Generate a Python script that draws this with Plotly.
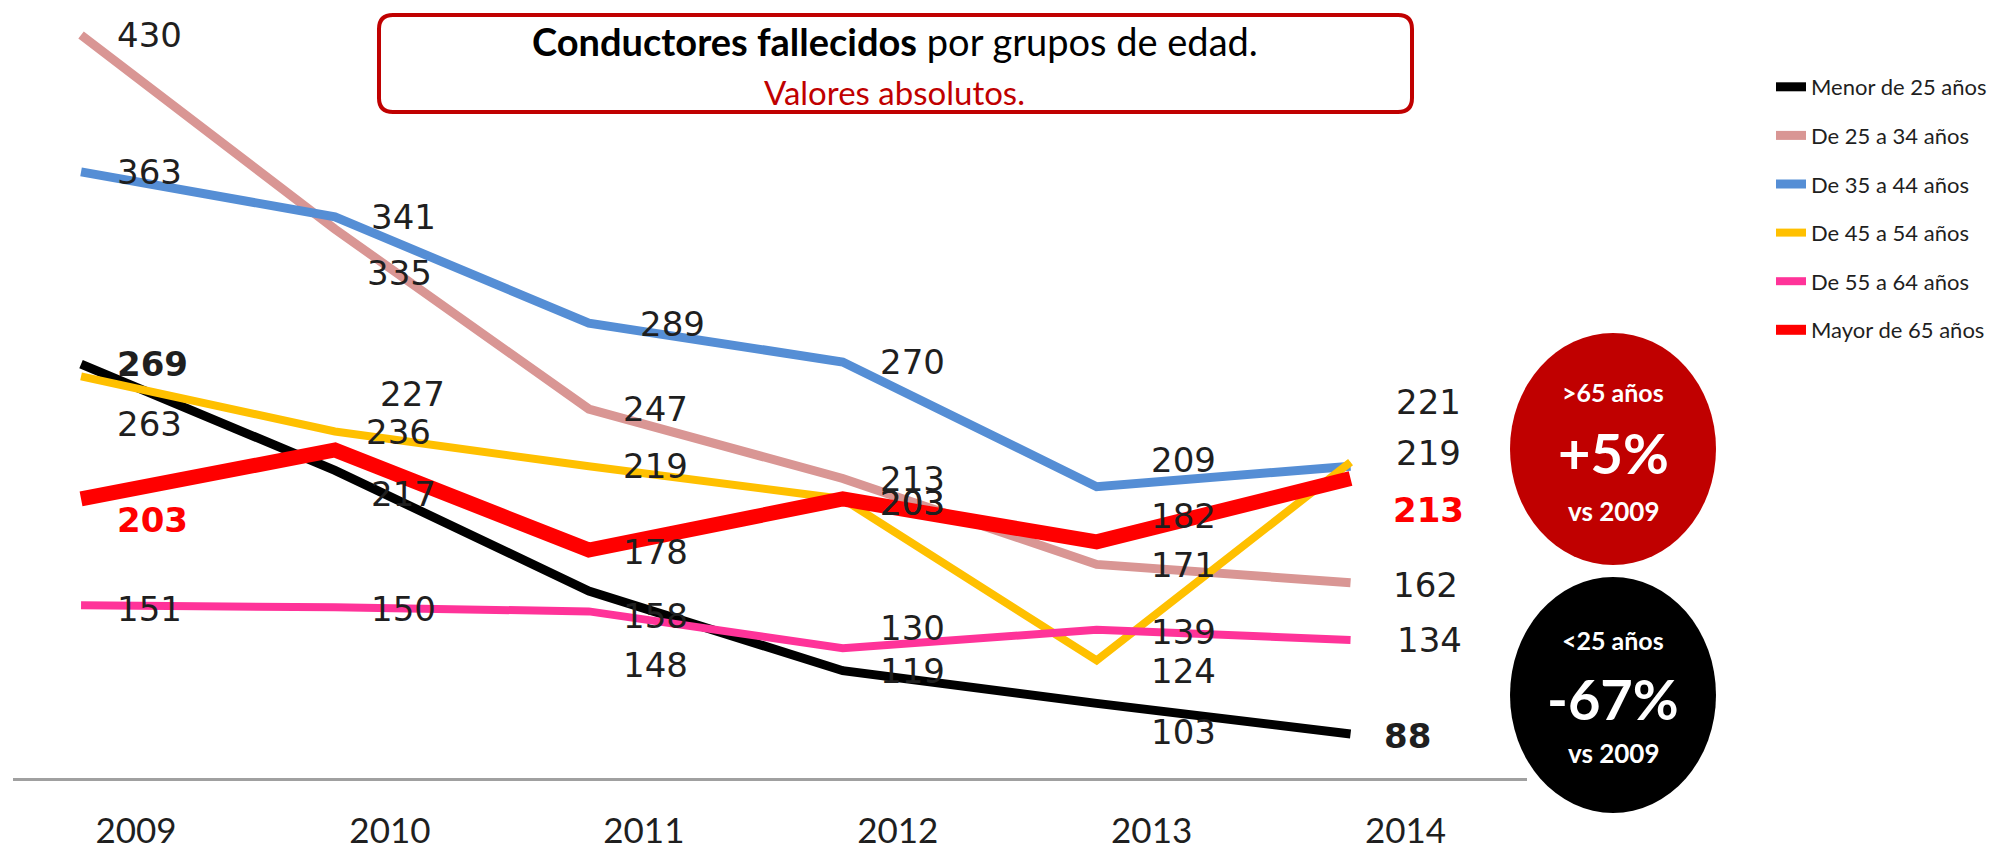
import plotly.graph_objects as go

# ---------------- data ----------------
years = [2009, 2010, 2011, 2012, 2013, 2014]
series_names = ["Menor de 25 años", "De 25 a 34 años", "De 35 a 44 años",
                "De 45 a 54 años", "De 55 a 64 años", "Mayor de 65 años"]
menor_25 = [269, 217, 158, 119, 103, 88]
de_25_34 = [430, 335, 247, 213, 171, 162]
de_35_44 = [363, 341, 289, 270, 209, 219]
de_45_54 = [263, 236, 219, 203, 124, 221]
de_55_64 = [151, 150, 148, 130, 139, 134]
mayor_65 = [203, 227, 178, 203, 182, 213]
all_series = [menor_25, de_25_34, de_35_44, de_45_54, de_55_64, mayor_65]

# ---------------- styles ----------------
colors = ["#000000", "#D99694", "#558ED5", "#FFC000", "#FF3399", "#FF0000"]
widths = [9, 9, 9, 8, 8, 15]

# label placement (pixel offsets from each point): dx = left edge, dy = down
label_dx = [
    [37, 37, 35, 38, 55, 34],
    [37, 33, 35, 38, 55, 43],
    [37, 37, 52, 38, 55, 46],
    [37, 32, 35, 38, 55, 46],
    [37, 37, 35, 38, 55, 47],
    [37, 46, 35, 38, 55, 43],
]
label_dy = [
    [0, 24, 25, 0, 29, 2],
    [0, 44, 0, 0, 1, 2],
    [0, 0, 1, 0, -27, -13],
    [48, 0, 0, 4, 11, -60],
    [4, 2, 54, -20, 2, 0],
    [21, -56, 2, 4, -26, 31],
]

W, H = 2013, 853
L, R, T, B = 13, 1527, 0, 778


def pxx(x):
    return (x - L) / (R - L)


def pxy(y):
    return 1 - (y - T) / (B - T)


fig = go.Figure()
for name, vals, col, w in zip(series_names, all_series, colors, widths):
    fig.add_trace(go.Scatter(
        x=years, y=vals, mode="lines", name=name,
        line=dict(color=col, width=w),
        hoverinfo="skip",
    ))

annotations = []
label_font = "DejaVu Sans"
for si, vals in enumerate(all_series):
    for yi, v in enumerate(vals):
        bold = si in (0, 5) and yi in (0, len(years) - 1)
        color = "#FF0000" if (bold and si == 5) else "#1F1F1F"
        txt = f"<b>{v}</b>" if bold else f"{v}"
        annotations.append(dict(
            x=years[yi], y=v, xref="x", yref="y", text=txt, showarrow=False,
            xanchor="left", yanchor="middle",
            xshift=label_dx[si][yi] - 3, yshift=-label_dy[si][yi],
            font=dict(family=label_font, size=34, color=color),
        ))

# title box texts
annotations.append(dict(
    x=pxx(895), y=pxy(41), xref="paper", yref="paper", showarrow=False,
    text="<b>Conductores fallecidos</b> por grupos de edad.",
    xanchor="center", yanchor="middle",
    font=dict(family="Lato", size=38, color="#000000")))
annotations.append(dict(
    x=pxx(895), y=pxy(92), xref="paper", yref="paper", showarrow=False,
    text="Valores absolutos.",
    xanchor="center", yanchor="middle",
    font=dict(family="Lato", size=33, color="#C00000")))

# change vs 2009 circles
chg_old = round((mayor_65[-1] - mayor_65[0]) / mayor_65[0] * 100)
chg_young = round((menor_25[-1] - menor_25[0]) / menor_25[0] * 100)
circ_cx = 1613
for (lab, chg, ys) in [(">65 años", chg_old, (392, 452, 511)),
                       ("<25 años", chg_young, (640, 698, 753))]:
    for txt, yy, sz in [(f"<b>{lab}</b>", ys[0], 25),
                        (f"<b>{chg:+d}%</b>", ys[1], 56),
                        ("<b>vs 2009</b>", ys[2], 26)]:
        annotations.append(dict(x=pxx(circ_cx), y=pxy(yy), xref="paper", yref="paper",
                                showarrow=False, text=txt,
                                xanchor="center", yanchor="middle",
                                font=dict(family="Lato", size=sz, color="white")))

# shapes: rounded title box and two circles
x0, y0, x1, y1, r = 379, 15, 1412, 112, 14
pts = [
    ("M", [(x0 + r, y0)]), ("L", [(x1 - r, y0)]), ("Q", [(x1, y0), (x1, y0 + r)]),
    ("L", [(x1, y1 - r)]), ("Q", [(x1, y1), (x1 - r, y1)]),
    ("L", [(x0 + r, y1)]), ("Q", [(x0, y1), (x0, y1 - r)]),
    ("L", [(x0, y0 + r)]), ("Q", [(x0, y0), (x0 + r, y0)]),
]
path = ""
for cmd, ps in pts:
    path += cmd + " ".join(f"{pxx(a):.5f},{pxy(b):.5f}" for a, b in ps) + " "
path += "Z"

shapes = [
    dict(type="path", path=path, xref="paper", yref="paper",
         line=dict(color="#C00000", width=4), fillcolor="rgba(255,255,255,0)"),
    dict(type="circle", xref="paper", yref="paper",
         x0=pxx(1510), x1=pxx(1716), y0=pxy(565), y1=pxy(333),
         fillcolor="#C00000", line=dict(width=0), layer="above"),
    dict(type="circle", xref="paper", yref="paper",
         x0=pxx(1510), x1=pxx(1716), y0=pxy(813), y1=pxy(577),
         fillcolor="#000000", line=dict(width=0), layer="above"),
]

# axis ranges from pixel calibration
x_at_L, x_at_R = 2008.732, 2014.695
y_bot, y_top = 66.5, 447.1

fig.update_layout(
    width=W, height=H,
    margin=dict(l=L, r=W - R, t=T, b=H - B, pad=0),
    paper_bgcolor="white", plot_bgcolor="white",
    showlegend=True,
    legend=dict(x=pxx(1771), y=pxy(66), xanchor="left", yanchor="top",
                font=dict(family="Lato", size=22, color="#1F1F1F"),
                tracegroupgap=17, bgcolor="rgba(0,0,0,0)", itemwidth=30),
    xaxis=dict(range=[x_at_L, x_at_R], tickvals=years, ticktext=[str(y) for y in years],
               showgrid=False, zeroline=False, showline=True, linecolor="#A0A0A0",
               linewidth=3, ticks="", ticklabelstandoff=20, ticklabelshift=55,
               tickfont=dict(family="Lato", size=35, color="#1F1F1F"),
               automargin=False, fixedrange=True),
    yaxis=dict(range=[y_bot, y_top], visible=False, showgrid=False, zeroline=False,
               automargin=False, fixedrange=True),
    annotations=annotations,
    shapes=shapes,
)
for i, tr in enumerate(fig.data):
    tr.legendgroup = f"g{i}"

fig.write_html("out.html", config={"displayModeBar": False},
               post_script="document.body.style.margin='0';")
